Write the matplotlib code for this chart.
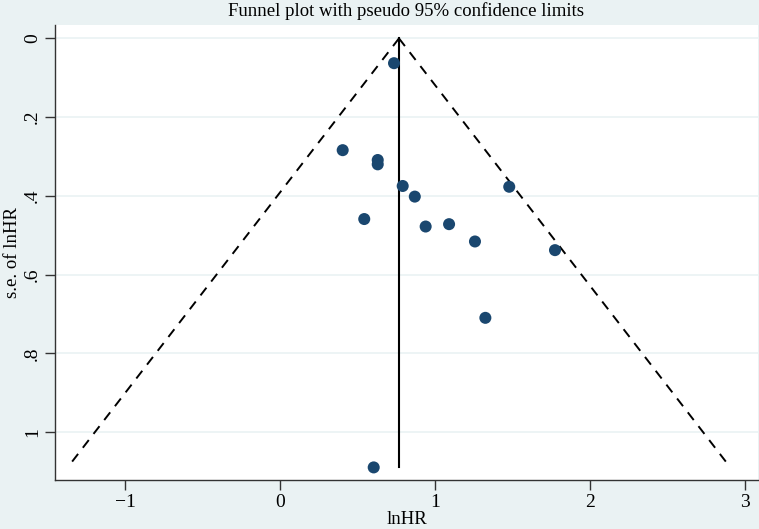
import matplotlib
matplotlib.use("Agg")
import matplotlib.pyplot as plt
import numpy as np

# Data
lnhr = [0.735, 0.404, 0.630, 0.630, 0.791, 0.869, 1.478, 0.543, 0.939, 1.090, 1.257, 1.773, 1.324, 0.604]
se = [0.063, 0.284, 0.309, 0.320, 0.375, 0.402, 0.377, 0.459, 0.478, 0.472, 0.516, 0.538, 0.710, 1.090]
pooled = 0.767
z = 1.96
xticks = [-1, 0, 1, 2, 3]
xticklabels = ["\u22121", "0", "1", "2", "3"]
yticks = [0, 0.2, 0.4, 0.6, 0.8, 1.0]
yticklabels = ["0", ".2", ".4", ".6", ".8", "1"]

plt.rcParams['font.family'] = ['Liberation Serif', 'DejaVu Serif']

bg = "#EAF2F3"
fig = plt.figure(figsize=(7.59, 5.29), dpi=100, facecolor=bg)
ax = fig.add_axes([55/759, (529-480)/529, 703/759, 455/529])
ax.set_facecolor("white")

ax.set_xlim(-1.451, 3.082)
ax.set_ylim(1.122, -0.034)

for yt in yticks:
    ax.axhline(yt, color=bg, lw=1.2, zorder=0)

smax = max(se)
s_line = np.array([0.0, smax])
ax.plot(pooled - z * s_line, s_line, color="black", lw=1.4, ls=(0, (5, 4)), zorder=2)
ax.plot(pooled + z * s_line, s_line, color="black", lw=1.4, ls=(0, (5, 4)), zorder=2)
ax.plot([pooled, pooled], [0, smax], color="black", lw=1.5, zorder=2)

ax.scatter(lnhr, se, s=75, color="#1a476f", edgecolors="none", zorder=3)

for sp in ["top", "right"]:
    ax.spines[sp].set_visible(False)
for sp in ["left", "bottom"]:
    ax.spines[sp].set_color("#333333")
    ax.spines[sp].set_linewidth(1.0)

ax.set_xticks(xticks)
ax.set_xticklabels(xticklabels, fontsize=14)
ax.set_yticks(yticks)
ax.set_yticklabels(yticklabels, fontsize=14, rotation=90, va="center")
ax.tick_params(axis="both", direction="out", length=7, width=1, color="#333333")
ax.tick_params(axis="y", pad=3)
ax.tick_params(axis="x", pad=3)

ax.set_xlabel("lnHR", fontsize=13.5, labelpad=0)
ax.set_ylabel("s.e. of lnHR", fontsize=13.5)
ax.yaxis.set_label_coords(-0.061, 0.5)
ax.yaxis.label.set_va("center")
fig.text(406/759, 1 - 11/529, "Funnel plot with pseudo 95% confidence limits",
         ha="center", va="center", fontsize=13.5)

fig.savefig("out.png", dpi=100, facecolor=bg)
